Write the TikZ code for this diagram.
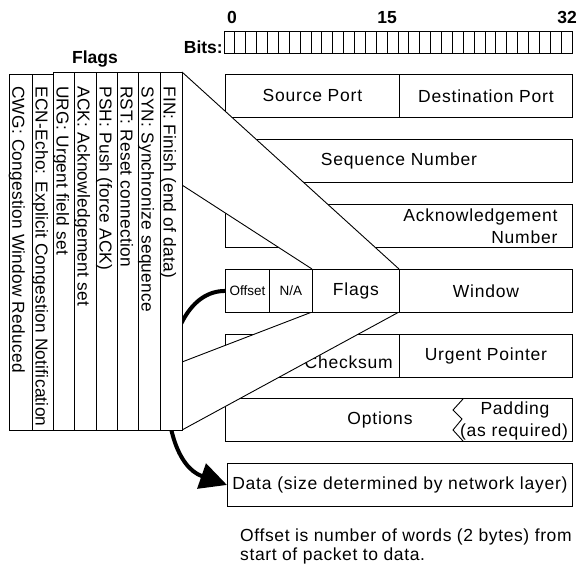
\documentclass[tikz,border=0pt]{standalone}
\usepackage{fontspec}
\setmainfont{Liberation Sans}
\newfontfamily\widefont{Liberation Sans}[LetterSpace=4.5]
\newfontfamily\notefont{Liberation Sans}[LetterSpace=3.5]
\newfontfamily\colfont{Liberation Sans}[LetterSpace=1.5]
\usetikzlibrary{arrows.meta}

\begin{document}
\begin{tikzpicture}[x=1pt,y=-1pt,
  lw/.style={line width=0.9pt},
  boxtext/.style={font=\widefont\fontsize{17.5pt}{22pt}\selectfont},
  cell/.style={draw, lw, fill=white, anchor=north west, minimum height=43pt,
    inner sep=0pt, boxtext},
  smallcell/.style={cell, font=\fontsize{13.5pt}{15pt}\selectfont},
  flagcol/.style={draw, lw, fill=white, anchor=north west, inner sep=0pt},
  coltext/.style={rotate=-90, anchor=base west, inner sep=0pt,
    font=\colfont\fontsize{17.3pt}{20pt}\selectfont},
  bold/.style={inner sep=0pt, font=\bfseries\fontsize{17.5pt}{20pt}\selectfont},
  thick arrow/.style={line width=4pt, -{Triangle[length=27pt,width=26pt]}}
]
\useasboundingbox (0,0) rectangle (580,565);

% bit ruler
\node[draw, lw, anchor=north west, minimum width=348pt, minimum height=22pt,
  inner sep=0pt] (ruler) at (224,31) {};
\foreach \i in {1,...,31}
  \draw[lw] (224+\i*10.875,31) -- (224+\i*10.875,53);
\node[bold, anchor=base] (b0) at (232,23) {0};
\node[bold, anchor=base] (b15) at (387,23) {15};
\node[bold, anchor=base] (b32) at (567,23) {32};
\node[bold, anchor=base east] (bits) at (223,53) {Bits:};

% header rows
\node[cell, minimum width=174pt] (sport) at (225,74) {Source Port};
\node[cell, minimum width=173pt] (dport) at (399,74) {Destination Port};
\node[cell, minimum width=347pt] (seq) at (225,139) {Sequence Number};
\node[cell, minimum width=347pt, text width=317pt, align=right] (ack) at (225,204)
  {Acknowledgement\\Number};
\node[cell, minimum width=174pt] (chk) at (225,334) {};
\node[boxtext, anchor=base east, inner sep=0pt] (chkt) at (393,368) {Checksum};
\node[cell, minimum width=173pt] (urg) at (399,334) {Urgent Pointer};
\node[cell, minimum width=347pt] (opt) at (225,398) {};
\node[boxtext, inner sep=0pt] (optt) at (380,420) {Options};
\draw[lw] (463,399) -- (453,410) -- (462,419) -- (453,430) -- (463,441);
\node[boxtext, inner sep=0pt] (padt) at (515,410) {Padding};
\node[boxtext, inner sep=0pt] (reqt) at (514,432) {(as required)};
\node[cell, minimum width=345pt] (data) at (227,463)
  {Data (size determined by network layer)};

% funnel from the flags column block to the Flags field
\coordinate (fa) at (182,72);
\coordinate (fb) at (182,185);
\coordinate (fc) at (182,362);
\coordinate (fd) at (182,430);
\coordinate (ga) at (312,269);
\coordinate (gb) at (399,269);
\coordinate (gc) at (312,312);
\coordinate (gd) at (399,312);
\fill[white] (fa) -- (gb) -- (ga) -- (fb) -- cycle;
\fill[white] (fc) -- (gc) -- (gd) -- (fd) -- cycle;
\draw[lw] (fa) -- (gb);
\draw[lw] (fb) -- (ga);
\draw[lw] (fc) -- (gc);
\draw[lw] (fd) -- (gd);

% offset / flags / window row
\node[smallcell, minimum width=44pt] (off) at (225,269) {Offset};
\node[smallcell, minimum width=43pt] (na) at (269,269) {N/A};
\node[cell, minimum width=87pt] (flg) at (312,269) {Flags};
\node[cell, minimum width=173pt] (win) at (399,269) {Window};

% offset points to the start of the data
\draw[thick arrow] (off.west) .. controls (155,291) and (150,458) .. (data.west);

% flag bits
\node[flagcol, minimum width=23pt, minimum height=356pt] (cwg) at (9,74) {};
\node[flagcol, minimum width=21pt, minimum height=356pt] (ecn) at (32,74) {};
\node[flagcol, minimum width=21pt, minimum height=358pt] (urgf) at (53,72) {};
\node[flagcol, minimum width=22pt, minimum height=358pt] (ackf) at (74,72) {};
\node[flagcol, minimum width=21pt, minimum height=358pt] (psh) at (96,72) {};
\node[flagcol, minimum width=21pt, minimum height=358pt] (rst) at (117,72) {};
\node[flagcol, minimum width=22pt, minimum height=358pt] (syn) at (138,72) {};
\node[flagcol, minimum width=22pt, minimum height=358pt] (fin) at (160,72) {};
\node[coltext] (cwgt) at (12.5,86) {CWG: Congestion Window Reduced};
\node[coltext] (ecnt) at (35.5,86) {ECN-Echo: Explicit Congestion Notification};
\node[coltext] (urgt) at (56.5,86) {URG: Urgent field set};
\node[coltext] (ackt) at (77.5,86) {ACK: Acknowledgement set};
\node[coltext] (psht) at (99.5,86) {PSH: Push (force ACK)};
\node[coltext] (rstt) at (120.5,86) {RST: Reset connection};
\node[coltext] (synt) at (141.5,86) {SYN: Synchronize sequence};
\node[coltext] (fint) at (163.5,86) {FIN: Finish (end of data)};
\node[bold, anchor=base] (flags) at (95,63) {Flags};

% note
\node[anchor=north west, align=left, inner sep=0pt,
  font=\notefont\fontsize{17.5pt}{18.5pt}\selectfont] (note) at (240,529)
  {Offset is number of words (2 bytes) from\\start of packet to data.};
\end{tikzpicture}
\end{document}
